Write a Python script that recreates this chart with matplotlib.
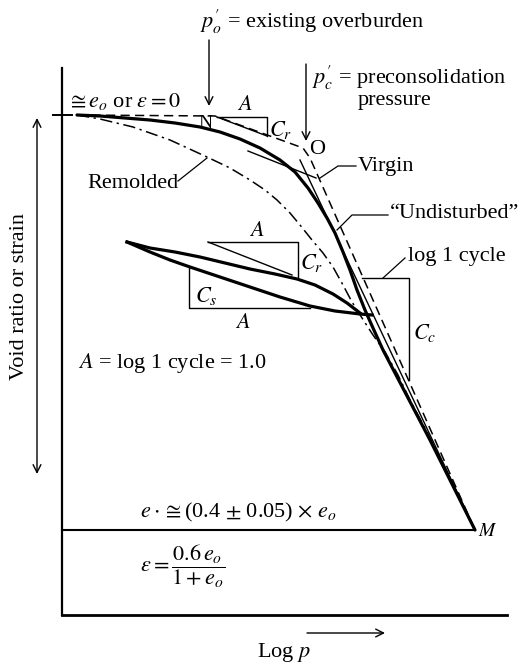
import matplotlib.pyplot as plt

plt.rcParams['font.family'] = ['Liberation Serif', 'DejaVu Serif']
plt.rcParams['mathtext.fontset'] = 'stix'

# curve points, drawn on a pixel-like grid (x right, y down)
undisturbed_x = [77, 100, 125, 150, 175, 200, 220, 240, 260, 280, 295, 308, 318,
                 327, 335, 343, 350, 357, 365, 373, 383, 430, 475]
undisturbed_y = [115, 116, 118, 120, 123, 127, 132, 139, 148, 160, 172, 188, 203,
                 218, 233, 252, 270, 290, 310, 328, 350, 440, 530]

remolded_x = [77, 100, 133, 170, 207, 230, 250, 265, 277, 290, 300, 312, 323, 333,
              343, 352, 362, 373, 385, 398, 410, 425, 450, 475]
remolded_y = [115, 119, 127, 140, 157, 168, 180, 190, 200, 213, 225, 240, 253, 267,
              285, 302, 318, 335, 352, 375, 400, 428, 478, 530]

field_x = [77, 215, 303, 310, 475]
field_y = [115, 116, 148, 158, 530]

virgin_x = [300, 475]
virgin_y = [160, 530]

tangent_x = [248, 316]
tangent_y = [151, 178]

loop_up_x = [127, 150, 175, 200, 225, 250, 275, 297, 315, 333, 347, 360]
loop_up_y = [242, 248, 252, 257, 263, 269, 274, 279, 285, 294, 303, 313]
loop_lo_x = [127, 150, 170, 190, 220, 250, 280, 310, 335, 360, 372]
loop_lo_y = [242, 252, 260, 267, 277, 287, 297, 306, 311, 314, 315]

fig = plt.figure(figsize=(5.25, 6.64), dpi=100)
ax = fig.add_axes([0, 0, 1, 1])
ax.set_xlim(0, 525)
ax.set_ylim(664, 0)
ax.axis('off')

k = 'black'
fs = 16

# frame lines
ax.plot([62, 62], [68, 615], color=k, lw=1.6)
ax.plot([62, 507], [615, 615], color=k, lw=2.0)
ax.plot([53, 72], [115, 115], color=k, lw=1.4)
ax.plot([62, 475], [530, 530], color=k, lw=1.5)

# curves
ax.plot(undisturbed_x, undisturbed_y, color=k, lw=2.3, solid_capstyle='round',
        solid_joinstyle='round')
ax.plot(remolded_x, remolded_y, color=k, lw=1.1, ls=(0, (8, 3, 1.5, 3)))
ax.plot(field_x, field_y, color=k, lw=1.1, ls=(0, (6, 3.5)))
ax.plot(virgin_x, virgin_y, color=k, lw=1.0)
ax.plot(tangent_x, tangent_y, color=k, lw=1.0)
ax.plot(loop_up_x, loop_up_y, color=k, lw=2.3, solid_joinstyle='round')
ax.plot(loop_lo_x, loop_lo_y, color=k, lw=2.3, solid_joinstyle='round')

# slope triangles
ax.plot([217, 267, 267], [117, 117, 136], color=k, lw=1.0)
ax.plot([217, 267], [117, 136], color=k, lw=1.0)
ax.plot([208, 298, 298], [242, 242, 277], color=k, lw=1.0)
ax.plot([208, 292], [242, 275], color=k, lw=1.0)
ax.plot([189, 189, 310], [268, 308, 308], color=k, lw=1.0)
ax.plot([362, 409, 409], [278, 278, 380], color=k, lw=1.0)

# leaders
ax.plot([178, 207], [181, 158], color=k, lw=0.9)
ax.plot([356, 338, 320], [166, 166, 178], color=k, lw=0.9)
ax.plot([388, 352, 337], [215, 215, 230], color=k, lw=0.9)
ax.plot([405, 383], [258, 278], color=k, lw=0.9)

# arrows
arr = dict(arrowstyle='->', color=k, lw=1.0, mutation_scale=14, shrinkA=0, shrinkB=0)
ax.annotate('', xy=(209, 106), xytext=(209, 40), arrowprops=arr)
ax.annotate('', xy=(306, 141), xytext=(306, 64), arrowprops=arr)
ax.annotate('', xy=(385, 633), xytext=(307, 633), arrowprops=arr)
ax.annotate('', xy=(37, 118), xytext=(37, 474),
            arrowprops=dict(arrowstyle='<->', color=k, lw=1.0, mutation_scale=14,
                            shrinkA=0, shrinkB=0))

# labels
ax.text(200, 22, r"$p_{o}^{\prime}$ = existing overburden", fontsize=fs, va='center')
ax.text(312, 78, r"$p_{c}^{\prime}$ = preconsolidation", fontsize=fs, va='center')
ax.text(358, 100, "pressure", fontsize=fs, va='center')
ax.text(67, 102, r"$\cong e_o$ or $\epsilon = 0$", fontsize=fs, va='center')
ax.text(205, 124, "N", fontsize=fs - 2, ha='center', va='center')
ax.text(317, 150, "O", fontsize=fs, ha='center', va='center')
ax.text(245, 106, r"$A$", fontsize=fs, ha='center', va='center')
ax.text(281, 130, r"$C_r$", fontsize=fs, ha='center', va='center')
ax.text(133, 183, "Remolded", fontsize=fs, ha='center', va='center')
ax.text(358, 166, "Virgin", fontsize=fs, va='center')
ax.text(390, 214, "\u201cUndisturbed\u201d", fontsize=fs, va='center')
ax.text(257, 231, r"$A$", fontsize=fs, ha='center', va='center')
ax.text(312, 263, r"$C_r$", fontsize=fs, ha='center', va='center')
ax.text(206, 296, r"$C_s$", fontsize=fs, ha='center', va='center')
ax.text(243, 323, r"$A$", fontsize=fs, ha='center', va='center')
ax.text(408, 256, "log 1 cycle", fontsize=fs, va='center')
ax.text(425, 333, r"$C_c$", fontsize=fs, ha='center', va='center')
ax.text(78, 363, r"$A$ = log 1 cycle = 1.0", fontsize=fs, va='center')
ax.text(140, 512, r"$e\cdot\cong$(0.4 $\pm$ 0.05) $\times$ $e_o$", fontsize=fs, va='center')
ax.text(140, 566, r"$\epsilon = \dfrac{0.6\,e_o}{1+e_o}$", fontsize=fs, va='center')
ax.text(488, 531, r"$M$", fontsize=fs - 2, ha='center', va='center')
ax.text(284, 653, r"Log $p$", fontsize=fs, ha='center', va='center')
ax.text(20, 296, "Void ratio or strain", fontsize=fs, rotation=90,
        ha='center', va='center')

fig.savefig('out.png', dpi=100)
